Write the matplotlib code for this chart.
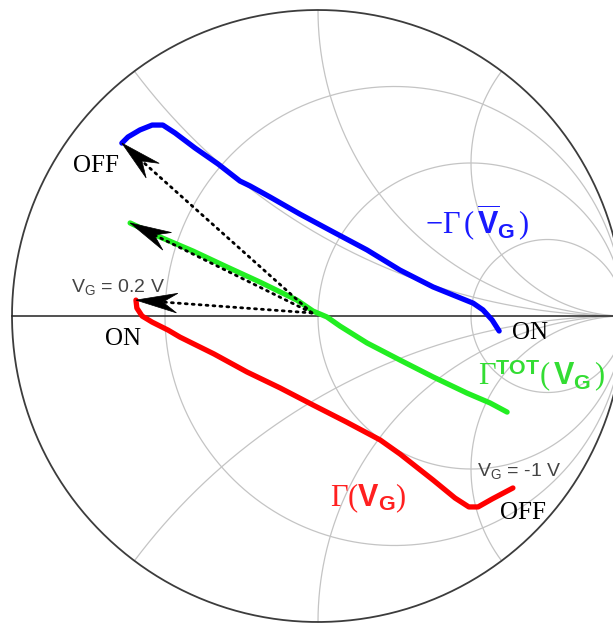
import numpy as np
import matplotlib
matplotlib.use("Agg")
from matplotlib import pyplot as plt
from matplotlib.patches import Polygon

# serif Gamma, bold sans V/G in the trace labels
plt.rcParams['mathtext.fontset'] = 'custom'
plt.rcParams['mathtext.rm'] = 'Liberation Serif'
plt.rcParams['mathtext.sf'] = 'Liberation Sans:bold'
plt.rcParams['mathtext.it'] = 'Liberation Serif:italic'

# Reflection coefficient traces (real, imag) swept over V_G
gamma_bar_re = [-0.641, -0.621, -0.582, -0.542, -0.507, -0.467, -0.402, -0.327, -0.255,
                -0.222, -0.157, -0.059, 0.049, 0.160, 0.268, 0.376, 0.507, 0.539, 0.569, 0.592]
gamma_bar_im = [0.565, 0.585, 0.608, 0.624, 0.624, 0.598, 0.549, 0.497, 0.441,
                0.425, 0.389, 0.333, 0.275, 0.216, 0.150, 0.095, 0.042, 0.020, -0.013, -0.049]

gamma_tot_re = [-0.614, -0.516, -0.408, -0.297, -0.190, -0.069, -0.016, 0.029, 0.072,
                0.160, 0.268, 0.376, 0.487, 0.562, 0.618]
gamma_tot_im = [0.304, 0.258, 0.212, 0.160, 0.111, 0.052, 0.016, -0.003, -0.033,
                -0.088, -0.144, -0.199, -0.252, -0.284, -0.314]

gamma_re = [-0.595, -0.592, -0.575, -0.542, -0.490, -0.451, -0.340, -0.232, -0.124, -0.016,
            0.092, 0.203, 0.268, 0.376, 0.448, 0.493, 0.523, 0.569, 0.637]
gamma_im = [0.052, 0.026, 0.000, -0.020, -0.046, -0.069, -0.124, -0.183, -0.235, -0.291,
            -0.346, -0.405, -0.451, -0.536, -0.595, -0.624, -0.624, -0.598, -0.562]

# common start of the dotted vectors
arrow_origin = (-0.02, 0.01)

# Smith chart grid values
r_values = [1 / 3, 1, 3]
x_values = [0.5, 1, 2]

fig = plt.figure(figsize=(6.13, 6.23), dpi=100)
ax = fig.add_axes([0, 0, 1, 1])
ax.set_xlim(-318 / 306, 295 / 306)
ax.set_ylim(-307 / 306, 316 / 306)
ax.axis('off')

grid_kw = dict(color='#c4c4c4', lw=0.9, zorder=1)

# constant resistance circles
t = np.linspace(0, 2 * np.pi, 400)
for r in r_values:
    c, rad = r / (1 + r), 1 / (1 + r)
    ax.plot(c + rad * np.cos(t), rad * np.sin(t), **grid_kw)

# constant reactance arcs, r from 0 to "infinity"
rr = np.concatenate([[0], np.geomspace(1e-3, 1e4, 600)])
for x in x_values:
    for sgn in (1, -1):
        z = rr + 1j * sgn * x
        g = (z - 1) / (z + 1)
        ax.plot(g.real, g.imag, **grid_kw)

# outer circle and real axis
ax.plot(np.cos(t), np.sin(t), color='#3c3c3c', lw=1.3, zorder=2)
ax.plot([-1, 1], [0, 0], color='#222222', lw=1.1, zorder=2)

# traces
trace_kw = dict(lw=3.8, solid_capstyle='round', solid_joinstyle='round', zorder=3)
ax.plot(gamma_bar_re, gamma_bar_im, color='#0000ff', **trace_kw)
ax.plot(gamma_tot_re, gamma_tot_im, color='#22ee22', **trace_kw)
ax.plot(gamma_re, gamma_im, color='#ff0000', **trace_kw)


def vector(tip):
    ox, oy = arrow_origin
    d = np.array([tip[0] - ox, tip[1] - oy])
    u = d / np.hypot(*d)
    n = np.array([-u[1], u[0]])
    tip = np.array(tip)
    head_len, half_w, notch = 0.135, 0.032, 0.088
    back = tip - u * notch
    ax.plot([ox, back[0]], [oy, back[1]], color='black', lw=2.0,
            linestyle=(0, (0.7, 1.8)), dash_capstyle='round', zorder=4)
    pts = [tip, tip - u * head_len + n * half_w, back, tip - u * head_len - n * half_w]
    ax.add_patch(Polygon(pts, closed=True, facecolor='black', edgecolor='black',
                         lw=0.5, zorder=5))


vector((gamma_bar_re[0], gamma_bar_im[0]))
vector((gamma_tot_re[0], gamma_tot_im[0]))
vector((gamma_re[0], gamma_im[0]))

# labels
serif = dict(family='Liberation Serif', fontsize=18, color='black', zorder=6)
ax.text(-0.80, 0.49, 'OFF', ha='left', va='center', **serif)
ax.text(-0.696, -0.075, 'ON', ha='left', va='center', **serif)
ax.text(0.634, -0.055, 'ON', ha='left', va='center', **serif)
ax.text(0.595, -0.645, 'OFF', ha='left', va='center', **serif)

sans = dict(family='Liberation Sans', fontsize=14, color='#444444', zorder=6)
ax.text(-0.808, 0.095, r'$\mathregular{V_G}$ = 0.2 V', ha='left', va='center', **sans)
ax.text(0.52, -0.505, r'$\mathregular{V_G}$ = -1 V', ha='left', va='center', **sans)

ax.text(0.35, 0.305, r'$-\Gamma\,(\,\overline{\mathsf{V}}_{\mathsf{G}}\,)$', color='#1a1aff',
        fontsize=22, ha='left', va='center', zorder=6)
ax.text(0.523, -0.195, r'$\Gamma^{\mathsf{TOT}}(\,\mathsf{V}_{\mathsf{G}}\,)$', color='#33dd33',
        fontsize=22, ha='left', va='center', zorder=6)
ax.text(0.039, -0.595, r'$\Gamma(\mathsf{V}_{\mathsf{G}})$', color='#ff2020',
        fontsize=22, ha='left', va='center', zorder=6)

fig.savefig('out.png', dpi=100)
